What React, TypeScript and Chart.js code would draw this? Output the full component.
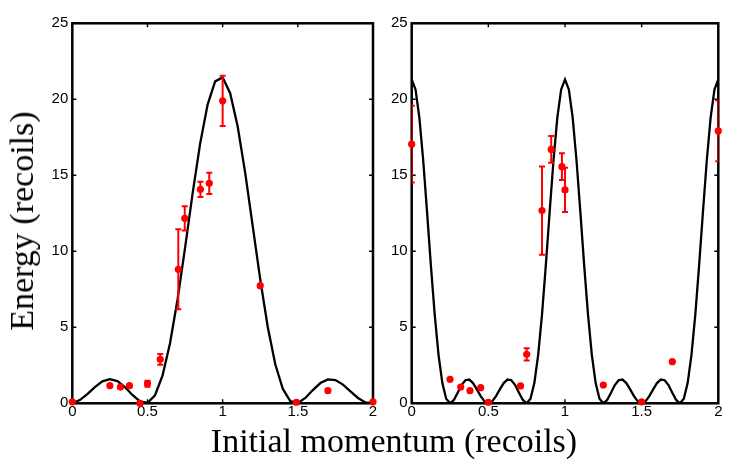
import { useEffect, useRef } from "react";
import { Chart, registerables } from "chart.js";

Chart.register(...registerables);

const xTicks = [0, 0.5, 1, 1.5, 2];
const yTicks = [0, 5, 10, 15, 20, 25];

// left panel: theory curve
const leftCurveX = [
  0, 0.05, 0.1, 0.15, 0.2, 0.25, 0.3, 0.35, 0.4, 0.45, 0.5, 0.55, 0.6, 0.65, 0.7, 0.75, 0.8, 0.85, 0.9, 0.95,
  1, 1.05, 1.1, 1.15, 1.2, 1.25, 1.3, 1.35, 1.4, 1.45, 1.5, 1.55, 1.6, 1.65, 1.7, 1.75, 1.8, 1.85, 1.9, 1.95, 2,
];
const leftCurveY = [
  0.01, 0.21, 0.61, 1.07, 1.44, 1.59, 1.46, 1.07, 0.55, 0.12, 0.02, 0.53, 1.82, 3.95, 6.83, 10.23, 13.79, 17.07,
  19.65, 21.18, 21.44, 20.4, 18.21, 15.16, 11.66, 8.15, 5.02, 2.57, 0.95, 0.14, 0.02, 0.35, 0.87, 1.33, 1.57, 1.53,
  1.23, 0.79, 0.35, 0.06, 0.01,
];

// left panel: measurements
const leftPointX = [0, 0.25, 0.32, 0.38, 0.45, 0.5, 0.585, 0.705, 0.748, 0.852, 0.911, 1.0, 1.25, 1.49, 1.7, 2.0];
const leftPointY = [0.1, 1.16, 1.07, 1.16, 0, 1.29, 2.89, 8.82, 12.17, 14.08, 14.47, 19.9, 7.74, 0.07, 0.83, 0.1];
const leftPointErr = [0, 0, 0, 0, 0, 0.2, 0.36, 2.63, 0.8, 0.5, 0.7, 1.65, 0, 0, 0, 0];

// right panel: theory curve
const rightCurveX = [
  0, 0.025, 0.05, 0.075, 0.1, 0.125, 0.15, 0.175, 0.2, 0.225, 0.25, 0.275, 0.3, 0.325, 0.35, 0.375, 0.4, 0.425,
  0.45, 0.475, 0.5, 0.525, 0.55, 0.575, 0.6, 0.625, 0.65, 0.675, 0.7, 0.725, 0.75, 0.775, 0.8, 0.825, 0.85, 0.875,
  0.9, 0.925, 0.95, 0.975, 1, 1.025, 1.05, 1.075, 1.1, 1.125, 1.15, 1.175, 1.2, 1.225, 1.25, 1.275, 1.3, 1.325,
  1.35, 1.375, 1.4, 1.425, 1.45, 1.475, 1.5, 1.525, 1.55, 1.575, 1.6, 1.625, 1.65, 1.675, 1.7, 1.725, 1.75, 1.775,
  1.8, 1.825, 1.85, 1.875, 1.9, 1.925, 1.95, 1.975, 2,
];
const rightCurveY = [
  21.3, 20.65, 18.79, 15.99, 12.61, 9.09, 5.84, 3.19, 1.33, 0.3, 0, 0.22, 0.7, 1.2, 1.52, 1.56, 1.33, 0.92, 0.47,
  0.13, 0, 0.13, 0.47, 0.92, 1.33, 1.56, 1.52, 1.2, 0.7, 0.22, 0, 0.3, 1.33, 3.19, 5.84, 9.09, 12.61, 15.99, 18.79,
  20.65, 21.3, 20.65, 18.79, 15.99, 12.61, 9.09, 5.84, 3.19, 1.33, 0.3, 0, 0.22, 0.7, 1.2, 1.52, 1.56, 1.33, 0.92,
  0.47, 0.13, 0, 0.13, 0.47, 0.92, 1.33, 1.56, 1.52, 1.2, 0.7, 0.22, 0, 0.3, 1.33, 3.19, 5.84, 9.09, 12.61, 15.99,
  18.79, 20.65, 21.3,
];

// right panel: measurements
const rightPointX = [0, 0.25, 0.32, 0.38, 0.45, 0.5, 0.71, 0.75, 0.85, 0.91, 0.98, 1.0, 1.25, 1.5, 1.7, 2.0];
const rightPointY = [17.05, 1.58, 1.07, 0.83, 1.03, 0.07, 1.14, 3.22, 12.68, 16.7, 15.57, 14.04, 1.2, 0.1, 2.74, 17.92];
const rightPointErr = [2.53, 0, 0, 0, 0, 0, 0, 0.4, 2.9, 0.88, 0.88, 1.45, 0, 0, 0, 2.0];

const tickFont = { family: "'Liberation Sans', Arial, sans-serif", size: 15, lineHeight: 1 };

interface PanelProps {
  curveX: number[];
  curveY: number[];
  pointX: number[];
  pointY: number[];
  pointErr: number[];
  left: number;
  width: number;
  axisWidth: number;
  padRight: number;
}

function Panel({ curveX, curveY, pointX, pointY, pointErr, left, width, axisWidth, padRight }: PanelProps) {
  const canvasRef = useRef<HTMLCanvasElement>(null);
  const chartRef = useRef<Chart | null>(null);

  useEffect(() => {
    if (!canvasRef.current) return;

    // box round the plot with small inward ticks, drawn under the data
    const boxPlugin = {
      id: "box",
      beforeDatasetsDraw(chart: any) {
        const { ctx, chartArea: a, scales } = chart;
        ctx.save();
        ctx.strokeStyle = "#000";
        ctx.lineWidth = 1.4;
        ctx.beginPath();
        for (const v of xTicks) {
          const px = scales.x.getPixelForValue(v);
          ctx.moveTo(px, a.bottom);
          ctx.lineTo(px, a.bottom - 4);
          ctx.moveTo(px, a.top);
          ctx.lineTo(px, a.top + 4);
        }
        for (const v of yTicks) {
          const py = scales.y.getPixelForValue(v);
          ctx.moveTo(a.left, py);
          ctx.lineTo(a.left + 4, py);
          ctx.moveTo(a.right, py);
          ctx.lineTo(a.right - 4, py);
        }
        ctx.stroke();
        ctx.lineWidth = 2.5;
        ctx.strokeRect(a.left, a.top, a.right - a.left, a.bottom - a.top);
        ctx.restore();
      },
    };

    const errPlugin = {
      id: "errbars",
      afterDatasetsDraw(chart: any) {
        const { ctx, chartArea: a, scales } = chart;
        ctx.save();
        ctx.beginPath();
        ctx.rect(a.left, a.top, a.right - a.left, a.bottom - a.top);
        ctx.clip();
        ctx.strokeStyle = "#ff0000";
        ctx.lineWidth = 2;
        ctx.beginPath();
        pointX.forEach((x, i) => {
          const e = pointErr[i];
          if (!e) return;
          const px = scales.x.getPixelForValue(x);
          const top = scales.y.getPixelForValue(pointY[i] + e);
          const bot = scales.y.getPixelForValue(pointY[i] - e);
          ctx.moveTo(px, top);
          ctx.lineTo(px, bot);
          ctx.moveTo(px - 3, top);
          ctx.lineTo(px + 3, top);
          ctx.moveTo(px - 3, bot);
          ctx.lineTo(px + 3, bot);
        });
        ctx.stroke();
        ctx.restore();
      },
    };

    chartRef.current = new Chart(canvasRef.current, {
      type: "scatter",
      data: {
        datasets: [
          {
            label: "data",
            data: pointX.map((x, i) => ({ x, y: pointY[i] })),
            backgroundColor: "#ff0000",
            borderWidth: 0,
            pointRadius: 3.6,
            clip: false,
            order: 0,
          },
          {
            label: "theory",
            type: "line",
            data: curveX.map((x, i) => ({ x, y: curveY[i] })),
            borderColor: "#000",
            borderWidth: 2.3,
            pointRadius: 0,
            tension: 0,
            fill: false,
            order: 1,
          },
        ],
      },
      options: {
        animation: false,
        responsive: true,
        maintainAspectRatio: false,
        layout: { padding: { top: 23.3, right: padRight, left: 0, bottom: 0 } },
        plugins: { legend: { display: false }, tooltip: { enabled: false } },
        scales: {
          x: {
            type: "linear",
            min: 0,
            max: 2,
            afterBuildTicks: (s: any) => {
              s.ticks = xTicks.map((value) => ({ value }));
            },
            afterFit: (s: any) => {
              s.height = 63.7;
              s.paddingLeft = 0;
              s.paddingRight = 0;
            },
            grid: { display: false, drawTicks: false },
            border: { display: false },
            ticks: { font: tickFont, color: "#000", padding: 1, maxRotation: 0, callback: (v: any) => String(v) },
          },
          y: {
            type: "linear",
            min: 0,
            max: 25,
            afterBuildTicks: (s: any) => {
              s.ticks = yTicks.map((value) => ({ value }));
            },
            afterFit: (s: any) => {
              s.width = axisWidth;
              s.paddingTop = 0;
              s.paddingBottom = 0;
            },
            grid: { display: false, drawTicks: false },
            border: { display: false },
            ticks: { font: tickFont, color: "#000", padding: 4, callback: (v: any) => String(v) },
          },
        },
      },
      plugins: [boxPlugin, errPlugin],
    } as any);

    return () => {
      if (chartRef.current) {
        chartRef.current.destroy();
        chartRef.current = null;
      }
    };
  }, [curveX, curveY, pointX, pointY, pointErr, axisWidth, padRight]);

  return (
    <div style={{ position: "absolute", left, top: 0, width, height: 467 }}>
      <canvas ref={canvasRef} />
    </div>
  );
}

const titleFont = "'Liberation Serif', 'Times New Roman', serif";

export default function App() {
  return (
    <div style={{ position: "absolute", left: 0, top: 0, width: 747, height: 467, background: "#fff", overflow: "hidden" }}>
      <Panel
        curveX={leftCurveX}
        curveY={leftCurveY}
        pointX={leftPointX}
        pointY={leftPointY}
        pointErr={leftPointErr}
        left={0}
        width={390}
        axisWidth={72.3}
        padRight={17}
      />
      <Panel
        curveX={rightCurveX}
        curveY={rightCurveY}
        pointX={rightPointX}
        pointY={rightPointY}
        pointErr={rightPointErr}
        left={380}
        width={367}
        axisWidth={31.7}
        padRight={28.7}
      />
      <div
        style={{
          position: "absolute",
          left: 22,
          top: 221,
          transform: "translate(-50%, -50%) rotate(-90deg)",
          fontFamily: titleFont,
          fontSize: 34,
          lineHeight: 1,
          whiteSpace: "nowrap",
          color: "#000",
        }}
      >
        Energy (recoils)
      </div>
      <div
        style={{
          position: "absolute",
          left: 394,
          top: 424,
          transform: "translateX(-50%)",
          fontFamily: titleFont,
          fontSize: 34,
          lineHeight: 1,
          whiteSpace: "nowrap",
          color: "#000",
        }}
      >
        Initial momentum (recoils)
      </div>
    </div>
  );
}
